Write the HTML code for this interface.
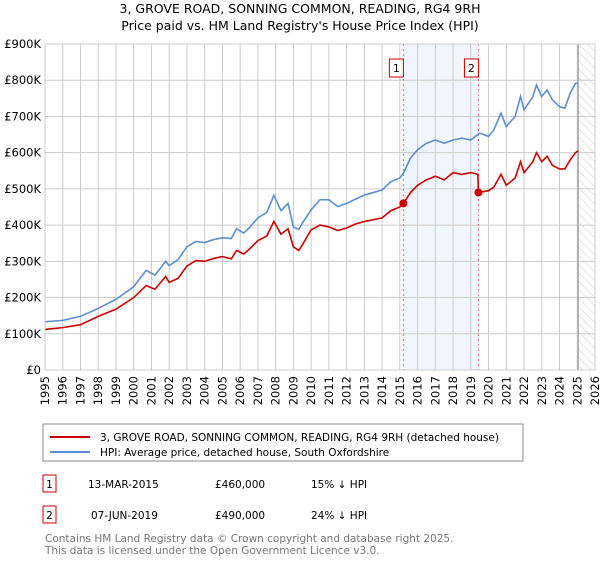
<!DOCTYPE html>
<html><head><meta charset="utf-8"><style>
body{margin:0;background:#fff;font-family:"Liberation Sans","DejaVu Sans",sans-serif;}
svg text{font-family:"DejaVu Sans","Liberation Sans",sans-serif;}
</style></head><body>
<svg id="chart" width="600" height="560" viewBox="0 0 600 560">
<text x="300" y="13" text-anchor="middle" font-size="12.5" fill="#000">3, GROVE ROAD, SONNING COMMON, READING, RG4 9RH</text>
<text x="300" y="30" text-anchor="middle" font-size="12.5" fill="#000">Price paid vs. HM Land Registry's House Price Index (HPI)</text>
<g id="plot"></g>
<rect x="43" y="424" width="480" height="37" fill="#fff" stroke="#888"/>
<line x1="50" y1="437" x2="90" y2="437" stroke="#cc0000" stroke-width="2"/>
<text x="100" y="441" font-size="10.5">3, GROVE ROAD, SONNING COMMON, READING, RG4 9RH (detached house)</text>
<line x1="50" y1="452" x2="90" y2="452" stroke="#5b8fd0" stroke-width="2"/>
<text x="100" y="456" font-size="10.5">HPI: Average price, detached house, South Oxfordshire</text>
<rect x="43" y="475" width="13" height="17" fill="#fff" stroke="#cc0000"/>
<text x="49.5" y="488" text-anchor="middle" font-size="10.5">1</text>
<text x="88" y="488" font-size="10.5">13-MAR-2015</text>
<text x="215" y="488" font-size="10.5">£460,000</text>
<text x="311" y="488" font-size="10.5">15% ↓ HPI</text>
<rect x="43" y="506" width="13" height="17" fill="#fff" stroke="#cc0000"/>
<text x="49.5" y="519" text-anchor="middle" font-size="10.5">2</text>
<text x="91" y="519" font-size="10.5">07-JUN-2019</text>
<text x="215" y="519" font-size="10.5">£490,000</text>
<text x="311" y="519" font-size="10.5">24% ↓ HPI</text>
<text x="45" y="542" font-size="10.5" fill="#777">Contains HM Land Registry data © Crown copyright and database right 2025.</text>
<text x="45" y="554" font-size="10.5" fill="#777">This data is licensed under the Open Government Licence v3.0.</text>
</svg>
<script>
const yTicks=[0,100,200,300,400,500,600,700,800,900];
const yTickLabels=["£0","£100K","£200K","£300K","£400K","£500K","£600K","£700K","£800K","£900K"];
const xYears=[1995,1996,1997,1998,1999,2000,2001,2002,2003,2004,2005,2006,2007,2008,2009,2010,2011,2012,2013,2014,2015,2016,2017,2018,2019,2020,2021,2022,2023,2024,2025,2026];
const hpiT=[1995,1996,1997,1998,1999,2000,2000.7,2001.2,2001.8,2002,2002.5,2003,2003.5,2004,2004.5,2005,2005.5,2005.8,2006.2,2006.5,2007,2007.5,2007.9,2008.3,2008.7,2009.0,2009.3,2009.5,2010,2010.5,2011,2011.5,2012,2013,2014,2014.5,2015,2015.2,2015.6,2016,2016.5,2017,2017.5,2018,2018.5,2019,2019.5,2020,2020.3,2020.7,2021,2021.5,2021.8,2022,2022.5,2022.7,2023,2023.3,2023.6,2024,2024.3,2024.6,2024.9,2025.05];
const hpiV=[133,137,148,170,195,230,275,262,300,288,305,340,355,352,360,365,363,390,378,392,420,435,482,440,460,395,388,405,442,470,470,451,460,483,497,520,530,543,585,608,626,635,626,635,640,635,654,645,663,709,672,700,755,718,755,787,755,773,746,727,723,764,792,792];
const ppT=[1995,1996,1997,1998,1999,2000,2000.7,2001.2,2001.8,2002,2002.5,2003,2003.5,2004,2004.5,2005,2005.5,2005.8,2006.2,2006.5,2007,2007.5,2007.9,2008.3,2008.7,2009.0,2009.3,2009.5,2010,2010.5,2011,2011.5,2012,2012.5,2013,2014,2014.5,2015,2015.2,2015.6,2016,2016.5,2017,2017.5,2018,2018.5,2019,2019.4,2019.43,2020,2020.3,2020.7,2021,2021.5,2021.8,2022,2022.5,2022.7,2023,2023.3,2023.6,2024,2024.3,2024.6,2024.9,2025.05];
const ppV=[112,117,125,148,168,200,233,223,258,242,253,287,302,300,308,313,307,330,320,333,357,370,410,375,390,340,330,345,387,400,395,385,392,403,410,420,440,450,460,490,510,525,535,525,545,540,545,540,490,495,505,540,510,530,575,545,575,600,575,590,565,555,555,580,600,605];
const saleT=[2015.2,2019.43];
const saleV=[460,490];
const saleLabels=["1","2"];

const L=45,R=595,T=44,B=370,x0=1995,x1=2026,yMax=900;
const X=t=>L+(t-x0)/(x1-x0)*(R-L);
const Y=v=>B-v/yMax*(B-T);
const NS="http://www.w3.org/2000/svg";
const g=document.getElementById('plot');
function mk(tag,attrs){const e=document.createElementNS(NS,tag);for(const k in attrs)e.setAttribute(k,attrs[k]);g.appendChild(e);return e;}

const band=mk('rect',{x:X(saleT[0]),y:T,width:X(saleT[1])-X(saleT[0]),height:B-T,fill:'#eef3fc',opacity:0.8});


// hatch
const defs=mk('defs',{});
defs.innerHTML='<pattern id="hatch" width="6" height="6" patternUnits="userSpaceOnUse" patternTransform="rotate(-45)"><line x1="0" y1="0" x2="0" y2="6" stroke="#ccc" stroke-width="1"/></pattern>';
const hx=X(2025.05);
const hatch=mk('rect',{x:hx,y:T,width:R-hx,height:B-T,fill:'url(#hatch)'});



yTicks.forEach((v,i)=>{
 const l=mk('line',{x1:L,x2:R,y1:Y(v),y2:Y(v),stroke:'#ccc','stroke-width':1});
 
 
 const t=mk('text',{x:L-4,y:Y(v)+4,'text-anchor':'end','font-size':11.5,fill:'#000'});
 t.textContent=yTickLabels[i];
 
 
});
xYears.forEach(yr=>{
 const l=mk('line',{x1:X(yr),x2:X(yr),y1:T,y2:B,stroke:'#ccc','stroke-width':1});
 
 
 const t=mk('text',{x:0,y:0,'text-anchor':'end','font-size':11.5,fill:'#000',transform:`translate(${X(yr)+4},${B+6}) rotate(-90)`});
 t.textContent=yr;
 
 
});
const cur=mk('line',{x1:hx,x2:hx,y1:T,y2:B,stroke:'#999','stroke-width':1.2});



saleT.forEach((t,i)=>{
 const l=mk('line',{x1:X(t),x2:X(t),y1:T,y2:B,stroke:'#e06060','stroke-width':1,'stroke-dasharray':'2,3'});
 
 
 const b=mk('rect',{x:X(t)-14,y:59,width:14,height:18,fill:'#fff',stroke:'#cc0000'});
 
 
 const tx=mk('text',{x:X(t)-7,y:72,'text-anchor':'middle','font-size':11});
 tx.textContent=saleLabels[i];
 
 
});

const hp=mk('polyline',{points:hpiT.map((t,i)=>X(t)+','+Y(hpiV[i])).join(' '),fill:'none',stroke:'#5b8fd0','stroke-width':1.6});


const pp=mk('polyline',{points:ppT.map((t,i)=>X(t)+','+Y(ppV[i])).join(' '),fill:'none',stroke:'#cc0000','stroke-width':1.6});


saleT.forEach((t,i)=>{
 const c=mk('circle',{cx:X(t),cy:Y(saleV[i]),r:4,fill:'#cc0000'});
 
 
});
const ax=mk('rect',{x:L,y:T,width:R-L,height:B-T,fill:'none',stroke:'#ccc'});


</script>
</body></html>
